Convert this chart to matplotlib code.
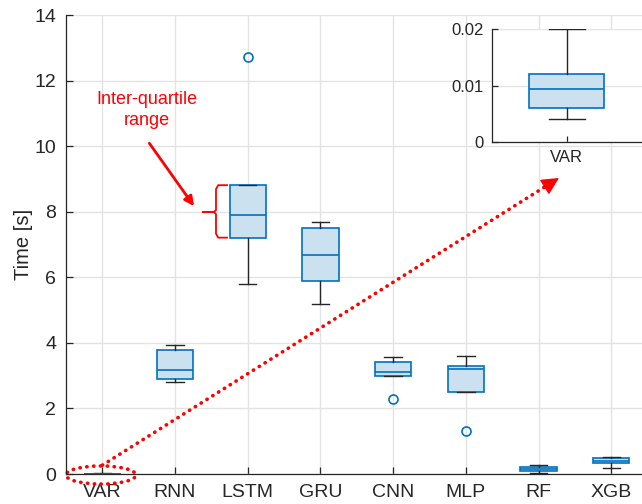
import numpy as np
import matplotlib.pyplot as plt
from matplotlib.patches import Ellipse

plt.rcParams['font.family'] = ['Liberation Sans', 'DejaVu Sans']

# box statistics (seconds)
models = ['VAR', 'RNN', 'LSTM', 'GRU', 'CNN', 'MLP', 'RF', 'XGB']
q1 = [0.006, 2.90, 7.21, 5.90, 2.99, 2.50, 0.09, 0.33]
med = [0.0094, 3.16, 7.89, 6.68, 3.11, 3.19, 0.16, 0.41]
q3 = [0.012, 3.78, 8.81, 7.49, 3.42, 3.29, 0.22, 0.48]
whislo = [0.004, 2.80, 5.79, 5.19, 2.99, 2.50, 0.02, 0.18]
whishi = [0.020, 3.94, 8.81, 7.69, 3.57, 3.60, 0.28, 0.53]
fliers = [[], [], [12.73], [], [2.30], [1.31], [], []]

blue = '#0072BD'
face = '#cce1f0'
dark = '#262626'
grid_c = '#e3e3e3'

stats = []
for i in range(len(models)):
    stats.append(dict(label=models[i], q1=q1[i], med=med[i], q3=q3[i],
                      whislo=whislo[i], whishi=whishi[i], fliers=fliers[i]))

box_kw = dict(patch_artist=True, widths=0.5, capwidths=0.24,
              boxprops=dict(facecolor=face, edgecolor=blue, linewidth=1.2),
              medianprops=dict(color=blue, linewidth=1.2),
              whiskerprops=dict(color=dark, linewidth=1.0, linestyle='-'),
              capprops=dict(color=dark, linewidth=1.0),
              flierprops=dict(marker='o', markerfacecolor='none',
                              markeredgecolor=blue, markersize=6.5,
                              markeredgewidth=1.2))

fig = plt.figure(figsize=(6.42, 5.04), dpi=100)
ax = fig.add_axes([0.1028, 0.0595, 0.906, 0.9107])
ax.bxp(stats, positions=np.arange(1, 9), **box_kw)
ax.set_xlim(0.5, 8.5)
ax.set_ylim(0, 14)
ax.set_yticks([0, 2, 4, 6, 8, 10, 12, 14])
ax.set_xticks(np.arange(1, 9))
ax.set_xticklabels(models)
ax.set_ylabel('Time [s]', fontsize=14.5, color=dark, labelpad=1)
ax.grid(True, color=grid_c, linewidth=1.0)
ax.set_axisbelow(True)
for s in ['top', 'right']:
    ax.spines[s].set_visible(False)
for s in ['left', 'bottom']:
    ax.spines[s].set_color(dark)
    ax.spines[s].set_linewidth(0.9)
ax.tick_params(direction='in', length=5, color=dark, labelsize=14,
               labelcolor=dark, width=0.9, pad=7)

# annotations
ax.text(1.614, 11.1, 'Inter-quartile\nrange', color='red', fontsize=13,
        ha='center', va='center', linespacing=1.3)
ax.annotate('', xy=(2.261, 8.17), xytext=(1.646, 10.09),
            arrowprops=dict(arrowstyle='-|>', color='red', lw=2,
                            mutation_scale=14, shrinkA=0, shrinkB=0))
# curly brace next to LSTM box
bx_tip, bx_mid, bx_end = 2.384, 2.563, 2.715
by_top, by_mid, by_bot = 8.81, 7.99, 7.21
ax.plot([bx_end, bx_mid + 0.03, bx_mid, bx_mid, bx_mid - 0.03, bx_tip],
        [by_top, by_top, by_top - 0.12, by_mid + 0.06, by_mid, by_mid],
        color='red', lw=1.3, clip_on=False)
ax.plot([bx_tip, bx_mid - 0.03, bx_mid, bx_mid, bx_mid + 0.03, bx_end],
        [by_mid, by_mid, by_mid - 0.06, by_bot + 0.12, by_bot, by_bot],
        color='red', lw=1.3, clip_on=False)

dots = (0, (0.1, 1.8))
ax.add_patch(Ellipse((0.98, -0.03), 0.963, 0.55, fill=False, edgecolor='red',
                     linestyle=dots, linewidth=2.6, capstyle='round',
                     clip_on=False))
x0, y0, x1, y1 = 1.0, 0.27, 7.28, 9.03
ax.plot([x0, x0 + 0.975 * (x1 - x0)], [y0, y0 + 0.975 * (y1 - y0)],
        color='red', lw=2.6, linestyle=dots, dash_capstyle='round',
        clip_on=False)
ax.annotate('', xy=(x1, y1),
            xytext=(x0 + 0.978 * (x1 - x0), y0 + 0.978 * (y1 - y0)),
            arrowprops=dict(arrowstyle='-|>,head_length=0.6,head_width=0.3',
                            color='red', lw=1, mutation_scale=18,
                            shrinkA=0, shrinkB=0))

# zoomed inset for VAR
axin = fig.add_axes([0.766, 0.7183, 0.2336, 0.2236])
axin.bxp([stats[0]], positions=[1], **box_kw)
axin.set_xlim(0.5, 1.5)
axin.set_ylim(0, 0.02)
axin.set_yticks([0, 0.01, 0.02])
axin.set_yticklabels(['0', '0.01', '0.02'])
axin.set_xticks([1])
axin.set_xticklabels(['VAR'])
axin.yaxis.grid(True, color=grid_c, linewidth=1.0)
axin.set_axisbelow(True)
for s in ['top', 'right']:
    axin.spines[s].set_visible(False)
for s in ['left', 'bottom']:
    axin.spines[s].set_color(dark)
    axin.spines[s].set_linewidth(0.9)
axin.tick_params(direction='in', length=4, color=dark, labelsize=12,
                 labelcolor=dark, width=0.9, pad=6)

plt.savefig('out.png', dpi=100)
